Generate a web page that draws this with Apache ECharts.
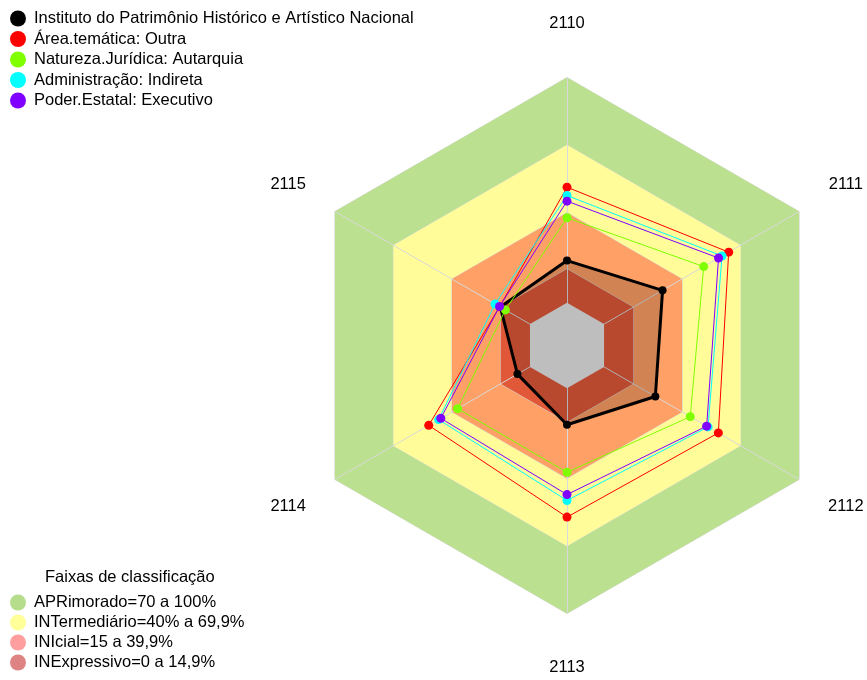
<!DOCTYPE html>
<html>
<head>
<meta charset="utf-8">
<title>Radar</title>
<script src="https://cdn.jsdelivr.net/npm/echarts@6/dist/echarts.min.js"></script>
<style>
  html, body { margin: 0; padding: 0; background: #fff; }
  #chart { width: 867px; height: 680px; }
</style>
</head>
<body>
<div id="chart"></div>
<script>
// eixos na ordem 2110..2115 (desenhados no sentido horario)
var categories = ['2110', '2111', '2112', '2113', '2114', '2115']

var seriesNames = [
  'Instituto do Patrimônio Histórico e Artístico Nacional',
  'Área.temática: Outra',
  'Natureza.Jurídica: Autarquia',
  'Administração: Indireta',
  'Poder.Estatal: Executivo'
]
var iphan = [18.7, 30.0, 26.3, 16.2, 6.4, 15.2]
var areaTematica = [51.3, 63.9, 58.6, 57.2, 51.9, 15.5]
var naturezaJuridica = [37.7, 51.1, 44.2, 37.3, 37.1, 12.6]
var administracao = [47.6, 60.5, 53.3, 49.8, 46.8, 17.9]
var poderEstatal = [45.1, 58.7, 52.6, 47.2, 45.7, 15.6]

// faixas de classificacao
var bandNames = [
  'APRimorado=70 a 100%',
  'INTermediário=40% a 69,9%',
  'INIcial=15 a 39,9%',
  'INExpressivo=0 a 14,9%'
]
var bandLimits = [100, 70, 40, 15]
var centerLimit = 0

var seriesColors = ['#000000', '#ff0000', '#80ff00', '#00ffff', '#8000ff']
var bandColors = ['#bbe08f', '#fffc99', '#ffa066', '#e05838']
var bandLegendColors = ['#b5dd8b', '#ffff99', '#ff9e9e', '#de8383']

// echarts desenha os indicadores no sentido anti-horario
var order = [0, 5, 4, 3, 2, 1]
function reorder (arr) {
  return order.map(function (i) { return arr[i] })
}
function fill (v) {
  return categories.map(function () { return v })
}

var font = 'Liberation Sans, Arial, sans-serif'
var fontSize = 16.5
var indicator = reorder(categories).map(function (c) {
  return { name: c, min: -19, max: 100 }
})

var series = []
bandLimits.forEach(function (v, i) {
  series.push({
    name: bandNames[i],
    type: 'radar',
    z: 1,
    silent: true,
    symbol: 'none',
    itemStyle: { color: bandLegendColors[i] },
    lineStyle: { color: '#d9d9d9', width: 1 },
    areaStyle: { color: bandColors[i], opacity: 1 },
    data: [{ value: fill(v) }]
  })
})

var values = [iphan, areaTematica, naturezaJuridica, administracao, poderEstatal]
values.forEach(function (vals, i) {
  series.push({
    name: seriesNames[i],
    type: 'radar',
    z: 3,
    symbol: 'circle',
    symbolSize: i === 0 ? 8 : 9,
    itemStyle: { color: seriesColors[i] },
    lineStyle: { color: seriesColors[i], width: i === 0 ? 3 : 1 },
    areaStyle: i === 0 ? { color: 'rgba(0,0,0,0.25)' } : null,
    emphasis: { disabled: true },
    data: [{ value: reorder(vals) }]
  })
})

// miolo cinza
series.push({
  name: 'centro',
  type: 'radar',
  z: 4,
  silent: true,
  symbol: 'none',
  lineStyle: { width: 0 },
  areaStyle: { color: '#bebebe', opacity: 1 },
  data: [{ value: fill(centerLimit) }]
})

var legendText = { fontSize: fontSize, lineHeight: 16, color: '#000', fontFamily: font, padding: [0, 0, 0, 3] }

var myChart = echarts.init(document.getElementById('chart'))
var option = {
  animation: false,
  textStyle: { fontFamily: font },
  title: {
    text: 'Faixas de classificação',
    left: 40,
    top: 564,
    textStyle: { fontSize: fontSize, fontWeight: 'normal', color: '#000', fontFamily: font }
  },
  legend: [
    {
      data: seriesNames.map(function (n, i) {
        return { name: n, itemStyle: { color: seriesColors[i] } }
      }),
      orient: 'vertical',
      left: 5,
      top: 5,
      icon: 'circle',
      itemWidth: 16,
      itemHeight: 16,
      itemGap: 3.5,
      selectedMode: false,
      textStyle: legendText
    },
    {
      data: bandNames.map(function (n, i) {
        return { name: n, itemStyle: { color: bandLegendColors[i] } }
      }),
      orient: 'vertical',
      left: 5,
      top: 589,
      icon: 'circle',
      itemWidth: 16,
      itemHeight: 16,
      itemGap: 3,
      selectedMode: false,
      textStyle: legendText
    }
  ],
  radar: {
    z: 2,
    center: [567, 345.5],
    radius: 268,
    startAngle: 90,
    shape: 'polygon',
    splitNumber: 1,
    indicator: indicator,
    nameGap: 54,
    axisName: {
      color: '#000',
      fontSize: fontSize,
      fontFamily: font,
      align: 'center',
      verticalAlign: 'middle'
    },
    axisLine: { show: true, lineStyle: { color: '#d9d9d9', width: 1 } },
    splitLine: { show: false },
    splitArea: { show: false },
    axisTick: { show: false },
    axisLabel: { show: false }
  },
  series: series
}
myChart.setOption(option)
</script>
</body>
</html>
